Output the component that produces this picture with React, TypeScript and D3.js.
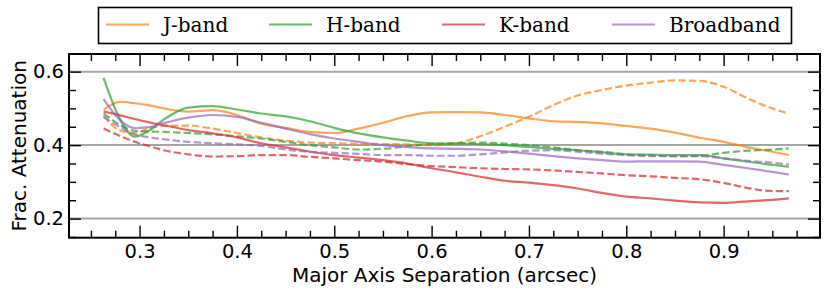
import React, { useEffect, useRef } from 'react'
import * as d3 from 'd3'

// major axis separation (arcsec)
const separation = [0.263, 0.28, 0.295, 0.31, 0.325, 0.35, 0.375, 0.4, 0.425, 0.45, 0.475, 0.5, 0.525, 0.55, 0.575, 0.6,
    0.625, 0.65, 0.675, 0.7, 0.725, 0.75, 0.775, 0.8, 0.825, 0.85, 0.875, 0.9, 0.925, 0.95, 0.967]

const jSolid = [0.497, 0.518, 0.514, 0.508, 0.5, 0.491, 0.495, 0.482, 0.458, 0.447, 0.436, 0.433, 0.445, 0.461, 0.479, 0.489,
    0.49, 0.489, 0.482, 0.473, 0.465, 0.463, 0.459, 0.452, 0.445, 0.434, 0.42, 0.409, 0.394, 0.382, 0.373]
const jDashed = [0.479, 0.44, 0.433, 0.446, 0.452, 0.453, 0.445, 0.433, 0.421, 0.412, 0.407, 0.405, 0.404, 0.403, 0.402, 0.4,
    0.405, 0.424, 0.45, 0.477, 0.509, 0.535, 0.55, 0.562, 0.57, 0.576, 0.575, 0.559, 0.527, 0.5, 0.486]
const hSolid = [0.583, 0.47, 0.423, 0.44, 0.47, 0.502, 0.506, 0.497, 0.486, 0.478, 0.465, 0.447, 0.432, 0.421, 0.412, 0.405,
    0.404, 0.403, 0.4, 0.395, 0.39, 0.386, 0.38, 0.375, 0.374, 0.373, 0.373, 0.364, 0.355, 0.346, 0.341]
const hDashed = [0.486, 0.455, 0.439, 0.437, 0.436, 0.433, 0.429, 0.424, 0.418, 0.409, 0.4, 0.394, 0.388, 0.39, 0.397, 0.403,
    0.405, 0.407, 0.404, 0.4, 0.394, 0.386, 0.382, 0.375, 0.372, 0.37, 0.371, 0.379, 0.385, 0.388, 0.391]
const kSolid = [0.491, 0.481, 0.471, 0.462, 0.454, 0.441, 0.432, 0.421, 0.405, 0.394, 0.382, 0.373, 0.366, 0.359, 0.35, 0.337,
    0.326, 0.314, 0.303, 0.298, 0.291, 0.282, 0.27, 0.26, 0.255, 0.249, 0.244, 0.243, 0.247, 0.251, 0.255]
const kDashed = [0.445, 0.425, 0.409, 0.397, 0.386, 0.375, 0.369, 0.37, 0.373, 0.373, 0.368, 0.364, 0.359, 0.355, 0.348, 0.343,
    0.34, 0.337, 0.335, 0.334, 0.331, 0.327, 0.323, 0.318, 0.315, 0.311, 0.307, 0.297, 0.283, 0.275, 0.275]
const bSolid = [0.525, 0.468, 0.446, 0.449, 0.46, 0.475, 0.482, 0.477, 0.461, 0.445, 0.43, 0.418, 0.409, 0.4, 0.395, 0.391,
    0.39, 0.388, 0.383, 0.377, 0.37, 0.364, 0.359, 0.355, 0.356, 0.356, 0.355, 0.346, 0.337, 0.327, 0.32]
const bDashed = [0.477, 0.449, 0.429, 0.421, 0.416, 0.409, 0.405, 0.402, 0.398, 0.388, 0.382, 0.379, 0.376, 0.373, 0.373, 0.371,
    0.371, 0.375, 0.38, 0.385, 0.386, 0.382, 0.377, 0.373, 0.37, 0.37, 0.37, 0.364, 0.357, 0.352, 0.347]

const bands = ['J-band', 'H-band', 'K-band', 'Broadband']
const bandColors = ['#ff7f0e', '#2ca02c', '#d62728', '#9467bd']
const xMajor = [0.3, 0.4, 0.5, 0.6, 0.7, 0.8, 0.9]
const yMajor = [0.2, 0.4, 0.6]

const series = [
    { band: 0, dashed: false, values: jSolid },
    { band: 0, dashed: true, values: jDashed },
    { band: 1, dashed: false, values: hSolid },
    { band: 1, dashed: true, values: hDashed },
    { band: 2, dashed: false, values: kSolid },
    { band: 2, dashed: true, values: kDashed },
    { band: 3, dashed: false, values: bSolid },
    { band: 3, dashed: true, values: bDashed },
]

const W = 830
const H = 293

const App = () => {
    const svgRef = useRef<SVGSVGElement>(null)

    useEffect(() => {
        drawChart()
    }, [])

    const drawChart = () => {
        const svg: any = d3.select(svgRef.current)
        svg.selectAll('*').remove()

        const left = 69, right = 820, top = 54, bottom = 237.7
        const x = d3.scaleLinear([0.2275, 0.999], [left, right])
        const y = d3.scaleLinear([0.148, 0.648], [bottom, top])

        const xMinor = d3.range(10, 40).map(i => +(i * 0.025).toFixed(3)).filter(v => !xMajor.some(m => Math.abs(m - v) < 1e-6))
        const yMinor = d3.range(3, 13).map(i => +(i * 0.05).toFixed(3)).filter(v => !yMajor.some(m => Math.abs(m - v) < 1e-6))

        // grid
        svg.append('g')
            .selectAll('line')
            .data(yMajor)
            .join('line')
            .attr('x1', left).attr('x2', right)
            .attr('y1', (d: number) => y(d)).attr('y2', (d: number) => y(d))
            .attr('stroke', '#a6a6a6')
            .attr('stroke-width', 2)

        // curves
        const line = d3.line<number>()
            .x((_, i) => x(separation[i]))
            .y(d => y(d))
            .curve(d3.curveMonotoneX)

        svg.append('g')
            .selectAll('path')
            .data(series)
            .join('path')
            .attr('d', (s: any) => line(s.values))
            .attr('fill', 'none')
            .attr('stroke', (s: any) => bandColors[s.band])
            .attr('stroke-opacity', 0.7)
            .attr('stroke-width', 2.2)
            .attr('stroke-dasharray', (s: any) => s.dashed ? '7.4,3.2' : null)

        // axes, ticks pointing in
        const styleAxis = (g: any) => {
            g.select('.domain').remove()
            g.selectAll('line').attr('stroke', 'black').attr('stroke-width', 1.4)
            g.selectAll('text').attr('font-family', 'DejaVu Sans').attr('font-size', 19.5).attr('fill', 'black')
        }
        svg.append('g').attr('transform', `translate(0,${bottom})`)
            .call(d3.axisBottom(x).tickValues(xMajor).tickSize(-12).tickPadding(6).tickFormat(d3.format('.1f')))
            .call(styleAxis)
        svg.append('g').attr('transform', `translate(0,${bottom})`)
            .call(d3.axisBottom(x).tickValues(xMinor).tickSize(-7).tickFormat(() => ''))
            .call(styleAxis)
        svg.append('g').attr('transform', `translate(0,${top})`)
            .call(d3.axisTop(x).tickValues(xMajor).tickSize(-12).tickFormat(() => ''))
            .call(styleAxis)
        svg.append('g').attr('transform', `translate(0,${top})`)
            .call(d3.axisTop(x).tickValues(xMinor).tickSize(-7).tickFormat(() => ''))
            .call(styleAxis)
        svg.append('g').attr('transform', `translate(${left},0)`)
            .call(d3.axisLeft(y).tickValues(yMajor).tickSize(-12).tickPadding(5).tickFormat(d3.format('.1f')))
            .call(styleAxis)
        svg.append('g').attr('transform', `translate(${left},0)`)
            .call(d3.axisLeft(y).tickValues(yMinor).tickSize(-7).tickFormat(() => ''))
            .call(styleAxis)
        svg.append('g').attr('transform', `translate(${right},0)`)
            .call(d3.axisRight(y).tickValues(yMajor).tickSize(-12).tickFormat(() => ''))
            .call(styleAxis)
        svg.append('g').attr('transform', `translate(${right},0)`)
            .call(d3.axisRight(y).tickValues(yMinor).tickSize(-7).tickFormat(() => ''))
            .call(styleAxis)

        // frame
        svg.append('rect')
            .attr('x', left).attr('y', top)
            .attr('width', right - left).attr('height', bottom - top)
            .attr('fill', 'none')
            .attr('stroke', 'black')
            .attr('stroke-width', 2)

        // axis titles
        svg.append('text')
            .attr('x', (left + right) / 2)
            .attr('y', 281.5)
            .attr('text-anchor', 'middle')
            .attr('font-family', 'DejaVu Sans')
            .attr('font-size', 20)
            .text('Major Axis Separation (arcsec)')
        svg.append('text')
            .attr('transform', `translate(25.5,${(top + bottom) / 2}) rotate(-90)`)
            .attr('text-anchor', 'middle')
            .attr('font-family', 'DejaVu Sans')
            .attr('font-size', 20)
            .text('Frac. Attenuation')

        // legend
        const legend = svg.append('g')
        legend.append('rect')
            .attr('x', 98.5).attr('y', 7.5)
            .attr('width', 693).attr('height', 36)
            .attr('fill', 'white')
            .attr('stroke', 'black')
            .attr('stroke-width', 1.6)
        const lineStarts = [106, 269, 442, 612]
        const item = legend.selectAll('.item')
            .data(bands)
            .join('g')
            .attr('class', 'item')
            .attr('transform', (_: string, i: number) => `translate(${lineStarts[i]},0)`)
        item.append('line')
            .attr('x1', 0).attr('x2', 43)
            .attr('y1', 24.5).attr('y2', 24.5)
            .attr('stroke', (_: string, i: number) => bandColors[i])
            .attr('stroke-opacity', 0.7)
            .attr('stroke-width', 2.2)
        item.append('text')
            .attr('x', 57)
            .attr('y', 32)
            .attr('font-family', 'DejaVu Serif')
            .attr('font-size', 20)
            .text((d: string) => d)
    }

    return (
        <svg ref={svgRef} width={W} height={H} style={{ position: 'absolute', left: 0, top: 0, background: 'white' }}></svg>
    )
}

export default App
